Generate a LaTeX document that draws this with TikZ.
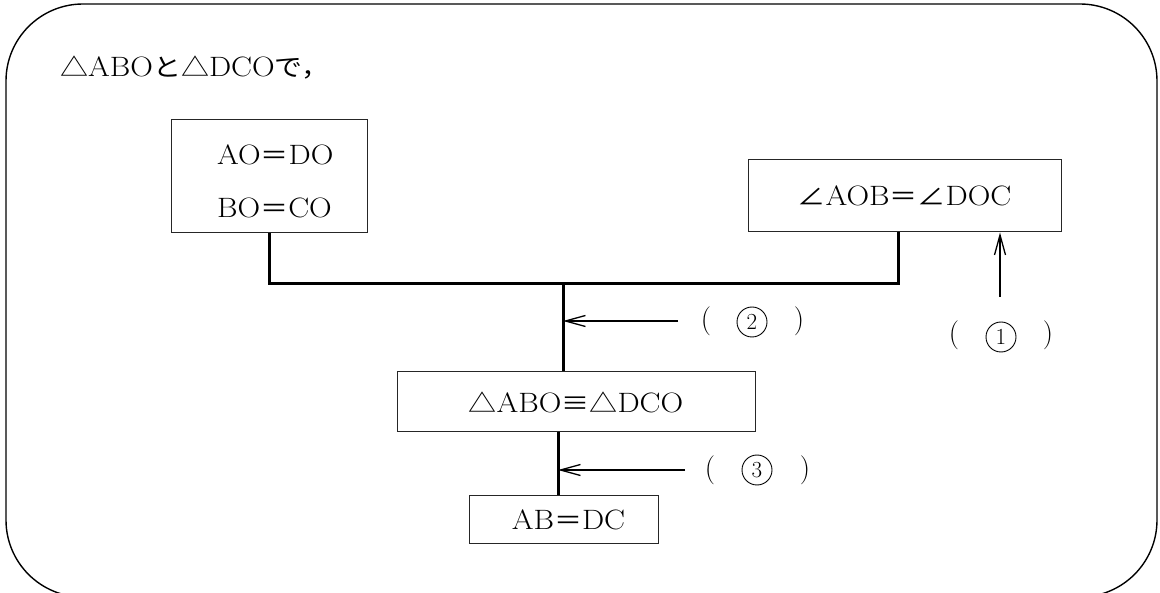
\documentclass[tikz,border=0pt]{standalone}
\usepackage{fontspec}
\usepackage{graphicx}
\usetikzlibrary{arrows.meta}
\newfontfamily\jp{Noto Sans CJK JP}
\newcommand\stretchtext[1]{\scalebox{1.12}[1]{#1}}
\newcommand\J[1]{{\jp\fontsize{25}{28}\selectfont #1}}
\tikzset{
  boxst/.style={draw=black!85, line width=1pt, inner sep=0pt},
  txt/.style={font=\fontsize{28}{32}\selectfont, inner sep=0pt},
  paren/.style={font=\fontsize{29}{32}\selectfont, inner sep=0pt},
  circnum/.style={circle, draw, line width=0.9pt, inner sep=0pt, minimum size=30pt,
                  font=\fontsize{23}{23}\selectfont},
  trunk/.style={line width=3pt},
  arr/.style={line width=1.3pt, -{Straight Barb[length=20pt,width=11pt]}},
  outer/.style={draw, line width=1.4pt, rounded corners=77pt}
}
\begin{document}
\begin{tikzpicture}[x=1pt,y=-1pt]
\useasboundingbox (0,0) rectangle (1160,593);
\clip (0,0) rectangle (1160,593);
\draw[outer] (6,4) rectangle (1157,597);

\node[txt, anchor=base west] (title) at (60,77)
  {\stretchtext{\J{△}ABO\J{と△}DCO\J{で，}}};

% boxes
\node[boxst, minimum width=196pt, minimum height=113pt] (b1) at (269,176.5) {};
\node[txt, anchor=base west] (t1) at (217,165) {\stretchtext{AO\J{＝}DO}};
\node[txt, anchor=base west] (t2) at (217,218) {\stretchtext{BO\J{＝}CO}};

\node[boxst, txt, minimum width=313pt, minimum height=72pt] (b2) at (904.5,196)
  {\stretchtext{\J{∠}AOB\J{＝∠}DOC}};

\node[boxst, txt, minimum width=358pt, minimum height=60pt] (b3) at (576,402)
  {\stretchtext{\J{△}ABO\J{≡△}DCO}};

\node[boxst, txt, minimum width=189pt, minimum height=47pt] (b4) at (563.5,519.5)
  {\hspace{10pt}\stretchtext{AB\J{＝}DC}};

% junction coordinates
\coordinate (j) at (563,284);
\coordinate (b2foot) at (898,232);
\coordinate (c3) at (558,432);

\draw[trunk] (b1.south) |- (j) -| (b2foot);
\draw[trunk] (j) -- (j |- b3.north);
\draw[trunk] (b3.south -| c3) -- (b4.north -| c3);

% labels
\node[paren] (l1a) at (954,335) {(};
\node[circnum] (l1) at (1001,337) {1};
\node[paren] (l1b) at (1048,335) {)};

\node[paren] (l2a) at (706,321) {(};
\node[circnum] (l2) at (752,322) {2};
\node[paren] (l2b) at (799,321) {)};

\node[paren] (l3a) at (710,470) {(};
\node[circnum] (l3) at (757,470) {3};
\node[paren] (l3b) at (805,470) {)};

\coordinate (a1s) at (1000,297);
\coordinate (a2s) at (678,321);
\coordinate (a3s) at (685,470);

\draw[arr] (a1s) -- (a1s |- b2.south);
\draw[arr] (a2s) -- (a2s -| j);
\draw[arr] (a3s) -- (a3s -| c3);
\end{tikzpicture}
\end{document}
